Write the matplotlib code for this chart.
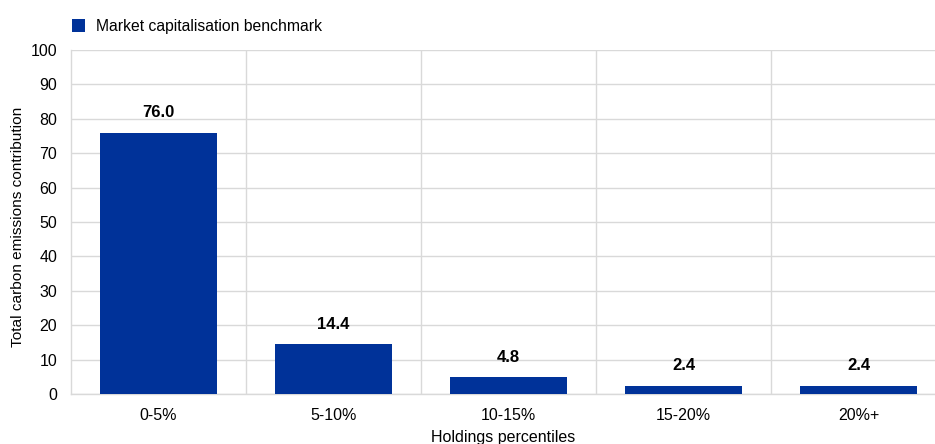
import matplotlib.pyplot as plt
from matplotlib.patches import Patch

plt.rcParams['font.family'] = ['Liberation Sans', 'DejaVu Sans']

# Chart data
categories = ['0-5%', '5-10%', '10-15%', '15-20%', '20%+']
values = [76.0, 14.4, 4.8, 2.4, 2.4]
series_name = 'Market capitalisation benchmark'

bar_color = '#003299'
grid_color = '#d9d9d9'

fig = plt.figure(figsize=(9.35, 4.44), dpi=100)
ax = fig.add_axes([71 / 935, 50 / 444, 1 - 71 / 935, 344 / 444])

x = range(len(categories))
ax.bar(x, values, width=0.665, color=bar_color, zorder=3)

# Value labels above bars
for xi, v in zip(x, values):
    ax.annotate(f'{v:.1f}', (xi, v), xytext=(0, 14.5), textcoords='offset points',
                ha='center', va='center', fontsize=12, fontweight='bold')

ax.set_ylim(0, 100)
ax.set_yticks(range(0, 101, 10))
ax.set_xlim(-0.5, 4.5 - 11 / 175)
ax.set_xticks(list(x))
ax.set_xticklabels(categories)

# Grid: horizontal at each tick, vertical between categories
ax.yaxis.grid(True, color=grid_color, linewidth=1, zorder=0)
for b in [0.5, 1.5, 2.5, 3.5]:
    ax.axvline(b, color=grid_color, linewidth=1, zorder=0)

for side in ['top', 'right']:
    ax.spines[side].set_visible(False)
for side in ['left', 'bottom']:
    ax.spines[side].set_color(grid_color)
    ax.spines[side].set_linewidth(1)
ax.tick_params(length=0, labelsize=11.5, colors='black')
ax.tick_params(axis='x', pad=10)
ax.tick_params(axis='y', pad=10)

# y label placed directly on the figure
fig.text(18 / 935, 1 - 227 / 444, 'Total carbon emissions contribution',
         rotation=90, ha='center', va='center', fontsize=11.1)
ax.set_xlabel('Holdings percentiles', fontsize=11.5, labelpad=5)

# Legend at top left
handle = Patch(facecolor=bar_color, edgecolor='none')
fig.legend([handle], [series_name], loc='upper left',
           bbox_to_anchor=(58 / 935, 1 - 5 / 444), frameon=False,
           fontsize=11.3, handlelength=0.85, handleheight=0.85, handletextpad=0.7)

fig.savefig('out.png', dpi=100)
